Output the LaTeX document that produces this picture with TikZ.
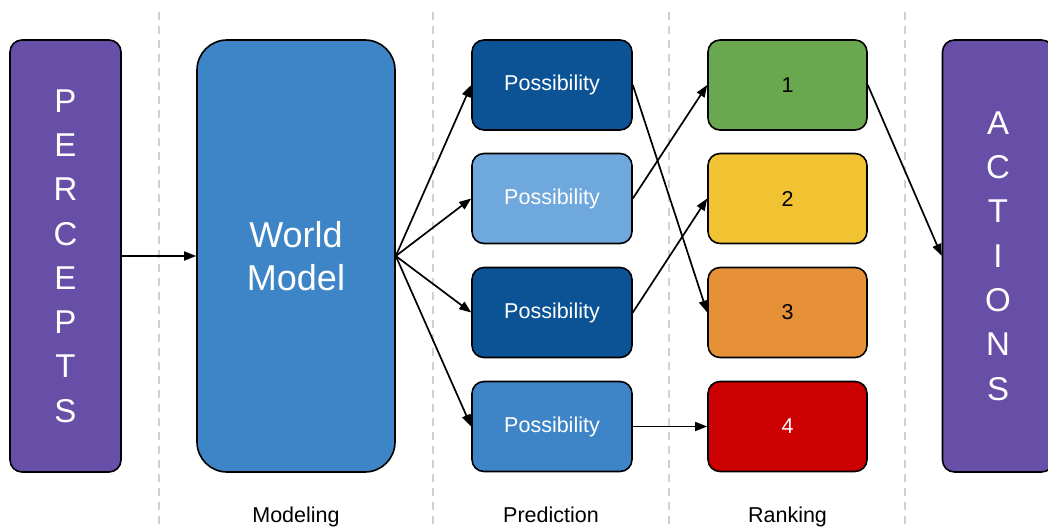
\documentclass[tikz,border=0pt]{standalone}
\usepackage{fontspec}
\setmainfont{Liberation Sans}
\usetikzlibrary{arrows.meta}
\definecolor{gpurple}{HTML}{674EA7}
\definecolor{gblue}{HTML}{3D85C6}
\definecolor{gdarkblue}{HTML}{0B5394}
\definecolor{glightblue}{HTML}{6FA8DC}
\definecolor{ggreen}{HTML}{6AA84F}
\definecolor{gyellow}{HTML}{F1C232}
\definecolor{gorange}{HTML}{E69138}
\definecolor{gred}{HTML}{CC0000}
\definecolor{sepgray}{HTML}{D0D0D0}
\tikzset{
  box/.style={draw=black, line width=1.6pt, rounded corners=12pt, inner sep=0pt},
  tallbox/.style={box, fill=gpurple, minimum width=111pt, minimum height=432pt,
    text=white, align=center, font=\fontsize{33}{44.3}\selectfont},
  possbox/.style={box, minimum width=160pt, minimum height=90pt,
    text=white, font=\fontsize{21.5}{25}\selectfont},
  rankbox/.style={box, minimum width=159pt, minimum height=90pt,
    font=\fontsize{21.5}{25}\selectfont},
  stage/.style={anchor=base, inner sep=0pt, font=\fontsize{21.5}{25}\selectfont},
  sep/.style={draw=sepgray, line width=1.6pt, dash pattern=on 8pt off 6pt},
  link/.style={draw=black, line width=1.7pt, -{Triangle[length=12pt,width=9pt]}}
}
\begin{document}
\begin{tikzpicture}[x=1pt,y=-1pt]
\useasboundingbox (0,0) rectangle (1048,527);

% column separators
\foreach \sx/\nm in {159/s1, 433/s2, 669/s3, 905/s4}{
  \coordinate (\nm top) at (\sx,12);
  \coordinate (\nm bot) at (\sx,527);
  \draw[sep] (\nm top) -- (\nm bot);
}

% input, model and output blocks
\node[tallbox] (percepts) at (65.5,256) {P\\E\\R\\C\\E\\P\\T\\S};
\node[box, fill=gblue, minimum width=198pt, minimum height=432pt,
      rounded corners=30pt, text=white, align=center,
      font=\fontsize{36}{43}\selectfont] (model) at (296,256) {World\\Model};
\node[tallbox] (actions) at (998,256) {A\\C\\T\\I\\O\\N\\S};

% predicted possibilities
\node[possbox, fill=gdarkblue]  (p1) at (552,85)    {Possibility};
\node[possbox, fill=glightblue] (p2) at (552,198.5) {Possibility};
\node[possbox, fill=gdarkblue]  (p3) at (552,312.5) {Possibility};
\node[possbox, fill=gblue]      (p4) at (552,426.5) {Possibility};

% ranked outcomes
\node[rankbox, fill=ggreen]  (r1) at (787.5,85)    {1};
\node[rankbox, fill=gyellow] (r2) at (787.5,198.5) {2};
\node[rankbox, fill=gorange] (r3) at (787.5,312.5) {3};
\node[rankbox, fill=gred, text=white] (r4) at (787.5,426.5) {4};

% stage labels
\node[stage] (lmod)  at (296,522)   {Modeling};
\node[stage] (lpred) at (551,522)   {Prediction};
\node[stage] (lrank) at (787.5,522) {Ranking};

% connectors
\draw[link] (percepts.east) -- (model.west);
\foreach \p in {p1,p2,p3,p4}{
  \draw[link] (model.east) -- (\p.west);
}
\draw[link] (p1.east) -- (r3.west);
\draw[link] (p2.east) -- (r1.west);
\draw[link] (p3.east) -- (r2.west);
\draw[link] (p4.east) -- (r4.west);
\draw[link] (r1.east) -- (actions.west);
\end{tikzpicture}
\end{document}
